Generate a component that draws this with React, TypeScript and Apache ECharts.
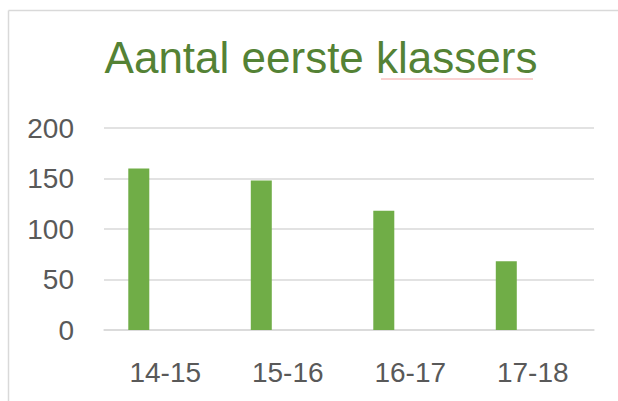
import React, { useEffect, useRef } from "react";
import * as echarts from "echarts";

const categories = ["14-15", "15-16", "16-17", "17-18"];
const leerlingen = [160, 148, 118, 68];
const tweedeReeks: (number | null)[] = [];
const yTicks = { min: 0, max: 200, interval: 50 };

const FONT = "'Liberation Sans', Arial, sans-serif";

export default function App() {
  const ref = useRef<HTMLDivElement>(null);
  useEffect(() => {
    if (!ref.current) return;
    const chart = echarts.init(ref.current, undefined, { renderer: "svg" });
    chart.setOption({
      animation: false,
      backgroundColor: "#ffffff",
      title: {
        text: "Aantal eerste klassers",
        left: 316,
        textAlign: "center",
        top: 30,
        textStyle: {
          color: "#548235",
          fontSize: 44,
          fontWeight: "normal",
          fontFamily: FONT,
        },
      },
      graphic: [
        {
          type: "line",
          shape: { x1: 8.5, y1: 10.5, x2: 618, y2: 10.5 },
          style: { stroke: "#d9d9d9", lineWidth: 1.5 },
          silent: true,
        },
        {
          type: "line",
          shape: { x1: 8.5, y1: 10.5, x2: 8.5, y2: 401 },
          style: { stroke: "#d9d9d9", lineWidth: 1.5 },
          silent: true,
        },
        {
          type: "line",
          shape: { x1: 381, y1: 79, x2: 533, y2: 79 },
          style: { stroke: "#f4a3a3", lineWidth: 1 },
          silent: true,
        },
      ],
      grid: { left: 104, right: 24, top: 128, bottom: 71 },
      xAxis: {
        type: "category",
        data: categories,
        axisTick: { show: false },
        axisLine: { lineStyle: { color: "#d9d9d9", width: 1.5 } },
        axisLabel: {
          color: "#595959",
          fontSize: 28,
          fontFamily: FONT,
          margin: 28,
        },
      },
      yAxis: {
        type: "value",
        min: yTicks.min,
        max: yTicks.max,
        interval: yTicks.interval,
        axisLine: { show: false },
        axisTick: { show: false },
        splitLine: { lineStyle: { color: "#d9d9d9", width: 1.5 } },
        axisLabel: {
          color: "#595959",
          fontSize: 28,
          fontFamily: FONT,
          margin: 30,
        },
      },
      series: [
        {
          type: "bar",
          name: "Aantal",
          data: leerlingen,
          barWidth: 21,
          barGap: "152%",
          itemStyle: { color: "#70ad47" },
        },
        {
          type: "bar",
          name: "Reeks 2",
          data: tweedeReeks,
          barWidth: 21,
          itemStyle: { color: "#ed7d31" },
        },
      ],
    });
    return () => chart.dispose();
  }, []);
  return (
    <div
      ref={ref}
      style={{ position: "fixed", left: 0, top: 0, width: 618, height: 401 }}
    />
  );
}
